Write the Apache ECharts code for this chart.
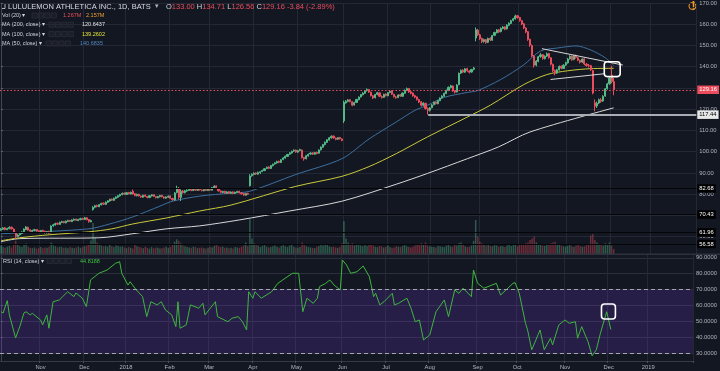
<!DOCTYPE html>
<html><head><meta charset="utf-8">
<script src="https://cdn.jsdelivr.net/npm/echarts@6/dist/echarts.min.js"></script>
<style>html,body{margin:0;padding:0;background:#131722;}#c{width:720px;height:371px;}</style>
</head><body><div id="c"></div>
<script>
// ---------- calendar / tick labels ----------
const firstDay = [2017, 9, 5];
const holidays = ['2017-11-23','2017-12-25','2018-01-01','2018-01-15','2018-02-19','2018-03-30','2018-05-28','2018-07-04','2018-09-03','2018-11-22','2018-12-05','2018-12-25','2019-01-01'];
const totalSlots = 333;
const monthNames = ['Jan','Feb','Mar','Apr','May','Jun','Jul','Aug','Sep','Oct','Nov','Dec'];

// ---------- candles [open, close, low, high] by month ----------
const oct17 = [[63.2,63.6,62.8,64.0],[63.5,64.1,63.2,64.5],[64.2,63.4,63.0,64.6],[63.3,63.9,63.1,64.2],[63.8,64.4,63.5,64.9],[64.5,63.7,63.4,64.7],[63.6,62.1,61.8,63.9],[62.0,60.2,59.0,62.3],[60.1,60.8,59.6,61.2],[60.9,61.6,60.5,61.9],[61.5,62.2,61.2,62.6],[62.3,63.6,62.0,63.9],[63.4,64.6,63.1,65.0],[64.4,63.1,62.8,64.7],[63.2,62.6,62.2,63.5],[62.5,62.9,62.1,63.3],[62.9,63.3,62.6,63.7],[63.4,62.7,62.4,63.6],[62.8,62.3,61.9,63.0]];
const nov17 = [[62.2,62.9,62.0,63.2],[63.0,62.5,62.2,63.3],[62.6,61.9,61.5,62.8],[61.8,62.4,61.5,62.7],[62.5,61.7,61.2,62.8],[61.8,65.0,61.6,65.4],[65.1,65.6,64.7,66.0],[65.5,66.2,65.2,66.6],[66.3,65.9,65.5,66.7],[65.8,66.8,65.6,67.1],[66.7,67.1,66.4,67.5],[67.2,66.6,66.3,67.4],[66.5,67.3,66.3,67.6],[67.2,67.6,66.9,68.0],[67.7,67.2,66.9,67.9],[67.1,67.9,66.9,68.2],[67.8,68.2,67.5,68.6],[68.3,67.7,67.4,68.5],[67.6,68.1,67.3,68.4],[68.0,68.5,67.8,68.9],[68.6,68.2,67.9,68.9]];
const dec17 = [[68.1,68.9,67.9,69.3],[68.9,68.0,67.7,69.1],[68.1,67.1,66.6,68.3],[67.0,67.6,66.8,68.0],[72.8,73.8,72.3,74.4],[73.9,74.6,73.4,75.0],[74.7,74.2,73.8,75.1],[74.1,75.1,73.9,75.4],[75.0,75.7,74.7,76.0],[75.8,75.3,75.0,76.1],[75.2,76.3,75.0,76.6],[76.2,76.9,75.9,77.2],[76.8,77.6,76.5,77.9],[77.7,77.2,76.9,78.0],[77.1,78.1,76.9,78.4],[78.0,78.7,77.7,79.0],[78.6,79.3,78.3,79.6],[79.2,79.9,78.9,80.2],[79.8,80.4,79.5,80.8],[80.5,80.0,79.6,80.8]];
const jan18 = [[79.9,80.7,79.7,81.0],[80.8,80.2,79.9,81.1],[80.1,80.9,79.9,81.2],[81.4,80.1,79.8,82.2],[80.2,79.4,79.0,80.5],[79.3,79.9,79.0,80.3],[80.0,79.2,78.9,80.2],[79.1,78.7,78.3,79.4],[78.6,79.5,78.4,79.8],[79.6,79.0,78.7,79.9],[78.9,78.5,78.1,79.2],[78.4,79.3,78.2,79.6],[79.2,79.7,78.9,80.0],[79.8,79.0,78.7,80.0],[78.9,78.4,78.0,79.2],[78.3,78.9,78.1,79.2],[78.8,79.4,78.5,79.7],[79.5,78.8,78.5,79.7],[78.7,78.2,77.8,79.0],[78.1,78.7,77.9,79.0],[78.6,79.1,78.3,79.4]];
const feb18 = [[79.2,78.1,77.8,79.4],[78.0,77.4,76.9,78.3],[77.3,80.6,77.0,81.0],[80.8,82.9,80.4,84.0],[82.6,78.6,77.6,83.4],[78.5,81.4,76.8,82.3],[81.5,80.8,80.2,82.0],[80.7,81.6,80.4,82.0],[81.5,81.9,81.1,82.3],[81.8,82.3,81.5,82.7],[82.4,81.8,81.4,82.6],[81.7,82.4,81.5,82.7],[82.5,81.9,81.6,82.7],[81.8,82.5,81.6,82.8],[82.6,82.1,81.7,82.9],[82.0,81.7,81.3,82.3],[81.6,82.2,81.4,82.5],[82.3,81.8,81.5,82.6],[81.7,82.4,81.5,82.7]];
const mar18 = [[82.5,82.0,81.6,82.8],[81.9,83.1,81.7,83.4],[83.0,83.8,82.7,84.2],[83.9,82.7,82.4,84.1],[82.6,81.6,81.2,82.8],[81.5,80.9,80.5,81.8],[80.8,81.3,80.5,81.6],[81.4,80.6,80.3,81.6],[80.5,81.1,80.3,81.4],[81.2,80.5,80.2,81.4],[80.4,81.0,80.2,81.3],[81.1,80.4,80.0,81.3],[80.3,80.9,80.1,81.2],[80.8,81.3,80.6,81.6],[81.4,80.7,80.4,81.6],[80.6,80.2,79.8,81.0],[80.3,79.6,79.2,80.5],[79.5,80.3,79.3,80.6],[80.4,80.0,79.6,80.7],[84.0,88.6,83.6,89.4],[88.7,89.4,88.2,89.8]];
const apr18 = [[89.3,89.9,88.9,90.3],[90.0,89.5,89.1,90.3],[89.4,90.3,89.2,90.6],[90.2,90.6,89.5,90.9],[90.7,91.2,90.4,91.5],[91.1,92.0,90.9,92.3],[92.1,92.7,91.8,93.0],[92.8,92.2,91.8,93.1],[92.1,93.5,91.9,93.8],[93.4,94.1,93.1,94.4],[94.2,94.8,93.9,95.1],[94.7,95.4,94.4,95.8],[95.5,95.0,94.6,95.8],[94.9,96.2,94.7,96.5],[96.3,97.1,96.0,97.4],[97.0,97.9,96.7,98.2],[97.8,98.7,97.5,99.0],[98.8,99.5,98.5,99.8],[99.4,100.2,99.1,100.5],[100.3,100.7,99.9,101.1],[100.8,99.9,99.5,101.0]];
const may18 = [[99.8,100.5,99.5,100.8],[100.6,101.0,100.2,101.4],[100.8,97.2,96.8,101.0],[97.3,96.6,95.8,97.6],[96.7,98.1,96.4,98.4],[98.0,98.8,97.7,99.1],[98.9,99.4,98.6,99.7],[99.5,98.9,98.5,99.8],[98.8,99.6,98.6,99.9],[99.7,99.2,98.8,100.0],[99.3,100.8,99.1,101.1],[100.9,102.2,100.6,102.5],[102.1,103.4,101.9,103.7],[103.3,104.5,103.0,104.8],[104.4,105.6,104.1,105.9],[105.5,106.6,105.2,106.9],[106.5,107.3,106.2,107.7],[107.4,106.5,106.1,107.6],[106.4,105.8,105.4,106.7],[105.9,106.6,105.6,106.9],[106.7,106.1,105.7,107.0],[106.0,105.3,104.9,106.3]];
const jun18 = [[114.5,123.2,113.5,124.0],[123.0,123.8,122.6,124.3],[123.7,124.4,123.3,124.8],[124.5,123.6,123.2,124.7],[123.5,121.9,121.4,123.8],[122.0,123.1,121.7,123.5],[123.2,124.6,122.9,124.9],[124.5,125.7,124.2,126.0],[125.8,126.9,125.5,127.2],[126.8,127.6,126.5,128.0],[127.5,128.7,127.2,129.0],[128.8,129.3,128.3,129.8],[129.2,128.1,127.7,129.5],[128.0,126.4,126.0,128.3],[126.3,125.3,124.8,126.7],[125.4,126.9,125.1,127.2],[127.0,127.8,126.6,128.2],[127.7,126.1,125.7,128.0],[126.0,125.5,125.0,126.5],[125.6,127.0,125.3,127.3],[127.1,126.4,126.0,127.5]];
const jul18 = [[126.3,127.8,126.1,128.1],[127.9,128.5,127.5,129.0],[128.6,127.1,126.7,128.9],[127.0,125.9,125.5,127.3],[125.8,125.4,124.9,126.3],[125.5,126.7,125.2,127.0],[126.8,126.2,125.8,127.1],[126.1,127.6,125.9,127.9],[127.5,128.9,127.3,129.3],[128.8,129.7,128.5,130.2],[129.8,128.1,127.7,130.0],[128.2,127.5,127.0,128.6],[127.6,126.3,125.9,127.9],[126.4,125.7,125.2,126.8],[125.8,124.6,124.1,126.0],[124.5,123.4,122.9,124.9],[123.5,121.8,121.3,123.8],[121.9,122.9,121.4,123.3],[122.8,120.3,119.8,123.0],[120.4,119.4,117.44,120.8],[119.5,120.6,118.9,121.0]];
const aug18 = [[120.7,122.0,120.4,122.4],[122.1,123.3,121.8,123.6],[123.4,122.7,122.2,123.7],[122.6,124.1,122.3,124.4],[124.0,125.3,123.8,125.6],[125.4,126.2,125.0,126.6],[126.1,127.5,125.8,127.8],[127.4,128.9,127.1,129.2],[128.8,130.3,128.5,130.7],[130.2,131.0,129.8,131.5],[130.9,128.6,128.2,131.2],[128.7,128.0,127.4,129.0],[128.1,131.4,127.9,131.8],[131.6,136.9,131.3,137.3],[137.0,138.3,136.6,138.7],[138.4,137.5,137.0,138.8],[137.4,139.0,137.1,139.4],[139.1,138.1,137.7,139.5],[138.0,137.4,136.8,138.4],[137.5,138.7,137.2,139.0],[138.8,139.4,138.3,139.9],[153.5,157.4,152.0,158.5],[157.2,155.1,154.5,157.8]];
const sep18 = [[155.0,153.2,152.6,155.5],[153.3,151.8,151.1,153.7],[151.9,152.7,151.3,153.2],[152.8,151.4,150.8,153.1],[151.5,153.3,151.1,153.7],[153.4,152.6,152.1,153.9],[152.5,154.7,152.2,155.0],[154.8,156.1,154.4,156.5],[156.0,157.3,155.7,157.7],[157.4,156.4,155.9,157.8],[156.5,158.1,156.2,158.5],[158.0,158.7,157.6,159.1],[158.8,157.7,157.2,159.0],[157.8,159.6,157.5,160.0],[159.5,160.5,159.1,160.9],[160.4,161.7,160.1,162.1],[161.8,162.6,161.4,163.0],[162.5,163.9,162.2,164.5],[164.0,163.1,162.6,164.3]];
const oct18 = [[163.2,161.8,161.2,163.5],[161.7,160.1,159.6,162.0],[160.2,158.3,157.7,160.5],[158.2,156.4,155.8,158.6],[156.5,152.8,152.2,156.8],[152.9,150.2,149.4,153.2],[150.0,145.1,144.5,150.5],[145.0,140.6,139.6,145.5],[140.8,142.6,140.2,143.1],[142.5,144.7,142.1,145.1],[144.8,145.6,144.2,146.4],[145.7,143.9,143.3,146.0],[143.8,144.9,143.4,145.4],[145.0,146.1,144.6,146.7],[146.2,144.3,143.8,146.5],[144.2,141.2,140.6,144.5],[141.1,138.1,137.5,141.5],[138.2,136.9,136.0,138.7],[137.0,138.6,136.6,139.0],[138.5,140.1,138.2,140.6],[140.2,139.3,138.8,140.6],[139.2,140.7,138.9,141.2],[140.8,141.9,140.4,142.4]];
const nov18 = [[141.8,143.6,141.5,144.1],[143.7,144.9,143.3,145.4],[145.0,143.3,142.8,145.3],[143.4,145.1,143.0,145.6],[145.2,144.3,143.8,145.7],[144.2,143.1,142.6,144.6],[143.0,142.1,141.5,143.4],[142.2,143.6,141.8,144.0],[143.7,141.3,140.7,144.0],[141.2,140.6,140.0,141.8],[140.5,140.4,139.6,141.3],[140.5,138.6,138.0,140.9],[138.2,127.6,127.0,138.6],[123.0,121.4,119.0,124.6],[121.5,122.8,120.6,123.6],[122.9,124.5,122.4,125.0],[124.4,123.8,123.0,125.2],[123.9,126.1,123.5,126.6],[126.2,129.6,125.9,130.0],[129.7,131.9,129.2,132.4],[132.0,134.6,131.5,135.1]];
const dec18 = [[136.0,133.0,132.2,140.5],[133.0,129.16,126.56,134.71]];

// ---------- volume (millions) ----------
const volumes = [2.2,1.8,1.6,1.9,2.1,1.7,2.6,3.4,2.4,2.0,1.8,2.3,2.7,1.9,1.6,1.5,1.7,1.4,1.6,1.8,1.5,1.7,1.6,1.9,3.0,2.2,2.0,1.7,1.9,1.8,1.6,1.7,1.5,1.8,1.6,1.5,1.7,1.9,1.6,1.8,2.0,2.2,2.4,3.5,
8.0,4.2,3.0,2.6,2.2,2.0,2.1,1.9,2.4,2.0,1.8,2.2,2.1,1.9,2.0,1.7,1.5,1.8,1.6,1.4,2.6,2.0,1.8,1.7,1.5,1.9,1.6,1.4,1.8,1.5,1.7,1.6,1.4,1.5,1.7,1.9,1.6,1.8,
2.4,3.2,3.8,3.4,2.8,2.2,2.0,1.8,1.7,1.6,1.9,1.8,1.5,1.6,1.7,1.5,1.4,1.6,1.8,1.7,2.1,2.4,2.0,1.8,1.9,1.6,1.7,1.5,1.6,1.4,1.8,1.7,1.6,1.9,2.2,3.0,
2.0,9.0,4.0,2.8,2.4,2.2,1.8,2.1,2.3,1.9,1.7,1.8,2.0,2.2,1.9,1.7,2.1,2.3,2.0,1.8,2.2,2.4,1.9,1.7,1.6,1.8,3.0,2.4,2.0,1.8,1.7,1.6,1.5,1.9,2.1,2.3,2.2,2.5,2.4,2.0,1.8,1.9,1.7,1.6,1.8,2.8,
8.5,4.0,3.0,2.6,2.8,2.2,2.4,2.6,2.2,2.0,2.4,2.1,2.3,2.5,2.2,1.9,1.8,2.1,2.0,1.7,1.9,2.2,1.8,1.6,1.7,2.0,1.9,1.8,2.1,2.3,2.0,1.8,1.7,1.9,2.2,2.4,2.6,2.8,2.4,3.0,2.2,2.0,1.9,1.8,1.7,2.1,2.0,1.9,1.8,2.2,2.4,2.0,1.9,2.6,2.2,2.8,3.0,2.4,2.0,1.8,1.9,2.2,3.4,
8.8,4.5,3.2,2.8,2.5,2.2,2.4,2.1,2.0,2.3,2.2,1.9,2.1,2.0,1.8,2.2,2.4,2.1,2.3,2.6,2.0,2.4,2.6,2.5,2.8,3.0,3.6,4.0,4.5,3.0,2.6,2.4,2.2,2.1,2.3,2.5,2.8,3.0,3.2,2.6,2.4,2.2,2.0,1.9,2.1,2.3,2.0,1.8,2.2,2.4,2.1,1.9,2.0,2.3,2.6,4.8,5.2,3.6,3.0,2.6,2.4,2.2,2.8,2.5,3.0,2.2,1.267];

// ---------- moving averages [barIndex, value] ----------
const ma200 = [[0,57.7],[9,59.1],[47,59.5],[63,61.4],[79,63.7],[95,65.1],[114,67.9],[138,72.1],[163,76.7],[189,84.7],[204,89.8],[223,96.7],[238,102.3],[253,109.3],[293,120.6437]];
const ma100 = [[0,58.1],[9,59.5],[23,60.9],[42,62.3],[53,63.7],[63,66.0],[79,68.8],[95,72.1],[110,74.9],[141,83.7],[163,88.4],[176,93.0],[189,99.1],[204,107.0],[223,116.3],[234,121.9],[250,131.6],[261,136.3],[271,138.1],[282,139.1],[293,139.2602]];
const ma50 = [[0,61.4],[42,63.7],[52,66.0],[63,69.3],[76,74.4],[82,76.7],[95,79.1],[110,80.5],[119,81.4],[141,89.3],[163,96.7],[176,106.0],[189,114.0],[198,119.5],[204,121.9],[212,125.6],[223,127.9],[228,128.8],[239,134.0],[250,140.9],[258,147.4],[266,148.8],[275,149.8],[282,147.9],[289,144.2],[293,140.6835]];

// ---------- RSI(14) [barIndex, value] ----------
const rsi = [[0,56.0],[1,55.2],[3,63.0],[4,54.0],[7,39.5],[9,46.6],[11,55.2],[12,56.0],[14,54.0],[15,55.0],[19,50.8],[20,47.7],[22,54.0],[23,45.6],[25,62.3],[28,63.4],[32,68.6],[35,65.5],[36,67.8],[39,64.6],[41,59.2],[43,76.0],[47,80.2],[51,82.3],[55,86.5],[57,87.5],[58,80.2],[61,72.8],[62,74.9],[65,69.7],[68,65.5],[70,52.9],[72,62.3],[75,60.3],[77,62.3],[79,57.1],[82,54.0],[84,46.6],[85,62.3],[86,45.6],[89,47.7],[91,60.3],[95,58.2],[97,61.3],[98,54.0],[103,62.3],[104,52.9],[109,49.7],[111,51.9],[114,52.9],[116,49.7],[118,44.5],[119,68.6],[121,64.5],[122,68.6],[125,64.5],[130,68.6],[133,73.9],[140,80.2],[143,80.2],[145,56.0],[147,64.5],[150,61.3],[152,64.5],[153,71.8],[156,73.9],[158,76.0],[160,72.8],[163,69.7],[164,88.6],[166,85.4],[168,80.2],[171,81.2],[174,84.8],[177,78.0],[179,65.5],[180,67.6],[182,60.3],[184,62.3],[188,67.6],[189,60.3],[191,61.3],[195,64.5],[197,58.2],[199,49.7],[201,50.8],[203,38.2],[206,41.4],[209,56.0],[213,63.4],[215,52.9],[218,69.7],[220,67.6],[222,70.8],[226,65.5],[227,82.3],[229,73.9],[232,70.8],[234,71.8],[238,73.9],[240,66.5],[246,73.9],[247,74.3],[249,67.6],[252,48.7],[253,44.5],[255,32.0],[258,41.4],[259,44.5],[261,32.0],[264,39.3],[265,35.1],[268,47.7],[271,50.8],[273,48.7],[276,49.7],[277,39.3],[279,46.6],[282,37.2],[284,28.2],[286,32.0],[288,42.5],[291,56.0],[293,44.8188]];

// ---------- drawings ----------
const trendUpper = [[258.7,148.5],[297.4,140.8]];
const trendLower = [[262.8,134.0],[288.5,136.7]];
const supportStart = [204.3, 117.44];
const levelLines = [82.68, 70.43, 61.96, 56.58];
const lastClose = 129.16;
const priceBox = [[288.5,135.35,296.1,142.33]];
const rsiBox = [[288.5,51.4,295.2,60.9]];

// ---------- build ----------
const candles = [].concat(oct17,nov17,dec17,jan18,feb18,mar18,apr18,may18,jun18,jul18,aug18,sep18,oct18,nov18,dec18);
const dates = [];
(function(){
  const d = new Date(Date.UTC(firstDay[0], firstDay[1], firstDay[2]));
  while (dates.length < totalSlots) {
    const wd = d.getUTCDay();
    const s = d.toISOString().slice(0,10);
    if (wd !== 0 && wd !== 6 && holidays.indexOf(s) < 0) dates.push(s);
    d.setUTCDate(d.getUTCDate() + 1);
  }
})();
function monthStart(i){ return i > 0 && dates[i].slice(0,7) !== dates[i-1].slice(0,7); }
function monthLabel(v){ const m = +v.slice(5,7); return m === 1 ? v.slice(0,4) : monthNames[m-1]; }

const UP = '#53b987', DOWN = '#eb4d5c';
const volData = volumes.map((v,i) => ({ value: v, itemStyle: { color: candles[i][1] >= candles[i][0] ? 'rgba(83,185,135,0.42)' : 'rgba(235,77,92,0.42)' } }));

const FONT = 'Liberation Sans, Arial, sans-serif';
const GRIDC = '#242834';
const AXC = '#b2b5be';
const priceMax = 170, priceMin = 170 - 254 / 2.15;

const chart = echarts.init(document.getElementById('c'), null, { width: 720, height: 371 });

function boxRender(params, api) {
  const p0 = api.coord([api.value(0), api.value(3)]);
  const p1 = api.coord([api.value(2), api.value(1)]);
  return { type: 'rect', shape: { x: p0[0], y: p0[1], width: p1[0]-p0[0], height: p1[1]-p0[1], r: 3 },
           style: { fill: 'none', stroke: '#ffffff', lineWidth: 1.6 } };
}
function lvlLabel(bg, fg, value) {
  return { show: true, position: 'end', distance: 1, formatter: value.toFixed(2), backgroundColor: bg, color: fg,
           padding: [1.5, 2, 1, 2], fontSize: 5.8, fontFamily: FONT };
}

const legendBoxes = [];
[[32,15.5],[49,24.7],[49,34],[46,43.5],[47,261]].forEach(([x,y]) => {
  for (let k = 0; k < 4; k++) legendBoxes.push({ type: 'rect', shape: { x: x + k*6.4, y: y-2.6, width: 5.2, height: 5.2 },
    style: { fill: '#1a1e28', stroke: '#30343f', lineWidth: 0.6 }, silent: true });
});
function txt(x, y, text, fill, size, extra) {
  return Object.assign({ type: 'text', x: x, y: y, silent: true, z: 20,
    style: Object.assign({ text: text, fill: fill, font: (size||5.5) + 'px ' + FONT, verticalAlign: 'middle' }, extra || {}) });
}

chart.setOption({
  backgroundColor: '#131722',
  animation: false,
  grid: [
    { left: 0, right: 21, top: 0, height: 254 },
    { left: 0, right: 21, top: 254, height: 107 }
  ],
  xAxis: [
    { type: 'category', gridIndex: 0, data: dates, axisLine: { show: false }, axisTick: { show: false }, axisLabel: { show: false },
      splitLine: { show: true, interval: monthStart, lineStyle: { color: GRIDC, width: 1 } } },
    { type: 'category', gridIndex: 1, data: dates, axisLine: { show: true, lineStyle: { color: '#363a45' } },
      axisTick: { show: true, interval: monthStart, length: 2, lineStyle: { color: '#4a4e59' } },
      axisLabel: { show: true, interval: monthStart, formatter: monthLabel, color: AXC, fontSize: 5.8, fontFamily: FONT, margin: 3 },
      splitLine: { show: true, interval: monthStart, lineStyle: { color: GRIDC, width: 1 } } },
    { type: 'value', gridIndex: 0, min: -0.5, max: totalSlots - 0.5, show: false },
    { type: 'value', gridIndex: 1, min: -0.5, max: totalSlots - 0.5, show: false }
  ],
  yAxis: [
    { type: 'value', gridIndex: 0, position: 'right', min: priceMin, max: priceMax, splitNumber: 12, scale: true,
      axisLine: { show: true, lineStyle: { color: '#434651' } }, axisTick: { show: true, length: 2, lineStyle: { color: '#5d606b' } },
      axisLabel: { color: AXC, fontSize: 5.8, fontFamily: FONT, margin: 3, showMinLabel: false,
        formatter: v => (Math.abs(v-130) < 0.01 || Math.abs(v-70) < 0.01) ? '' : v.toFixed(2) },
      splitLine: { show: true, lineStyle: { color: GRIDC } } },
    { type: 'value', gridIndex: 0, min: 0, max: 65, show: false },
    { type: 'value', gridIndex: 1, position: 'right', min: 30 - 8/1.5875, max: 70 + 35.5/1.5875, splitNumber: 7, scale: true,
      axisLine: { show: true, lineStyle: { color: '#434651' } }, axisTick: { show: true, length: 2, lineStyle: { color: '#5d606b' } },
      axisLabel: { color: AXC, fontSize: 5.8, fontFamily: FONT, margin: 3, showMinLabel: false, showMaxLabel: false, formatter: v => v.toFixed(4) },
      splitLine: { show: true, lineStyle: { color: '#2b2f3d' } } }
  ],
  series: [
    { type: 'bar', xAxisIndex: 0, yAxisIndex: 1, data: volData, barWidth: '70%', silent: true, z: 1 },
    { type: 'line', xAxisIndex: 2, yAxisIndex: 0, data: ma200, showSymbol: false, smooth: 0.3, silent: true, z: 3,
      lineStyle: { color: '#d8d8d8', width: 1 },
      markLine: { silent: true, symbol: ['none','none'], animation: false, data: [
        { yAxis: lastClose, lineStyle: { color: DOWN, type: [1.5, 2], width: 1 }, label: lvlLabel(DOWN, '#ffffff', lastClose) },
        [ { coord: supportStart, lineStyle: { color: '#a9acb3', type: 'solid', width: 2 }, label: lvlLabel('#e8e8e8', '#000000', supportStart[1]) },
          { coord: [totalSlots - 0.5, supportStart[1]] } ]
      ].concat(levelLines.map(v => ({ yAxis: v, lineStyle: { color: '#050608', type: 'solid', width: 1 }, label: lvlLabel('#000000', '#ffffff', v) }))) } },
    { type: 'line', xAxisIndex: 2, yAxisIndex: 0, data: ma100, showSymbol: false, smooth: 0.3, silent: true, z: 3,
      lineStyle: { color: '#c9c93a', width: 1 } },
    { type: 'line', xAxisIndex: 2, yAxisIndex: 0, data: ma50, showSymbol: false, smooth: 0.3, silent: true, z: 3,
      lineStyle: { color: '#3d6f9e', width: 1 } },
    { type: 'candlestick', xAxisIndex: 0, yAxisIndex: 0, data: candles, barWidth: '72%', silent: true, z: 4,
      itemStyle: { color: UP, color0: DOWN, borderColor: UP, borderColor0: DOWN, borderWidth: 1 } },
    { type: 'line', xAxisIndex: 2, yAxisIndex: 0, data: trendUpper, showSymbol: false, silent: true, z: 5, lineStyle: { color: '#d6d6d6', width: 1 } },
    { type: 'line', xAxisIndex: 2, yAxisIndex: 0, data: trendLower, showSymbol: false, silent: true, z: 5, lineStyle: { color: '#d6d6d6', width: 1 } },
    { type: 'custom', xAxisIndex: 2, yAxisIndex: 0, data: priceBox, renderItem: boxRender, clip: false, silent: true, z: 6,
      encode: { x: [0, 2], y: [1, 3] } },
    { type: 'line', xAxisIndex: 3, yAxisIndex: 2, data: rsi, showSymbol: false, silent: true, z: 4,
      lineStyle: { color: '#3fb53f', width: 1 },
      markArea: { silent: true, itemStyle: { color: 'rgba(110,60,200,0.22)' }, data: [[{ yAxis: 30 }, { yAxis: 70 }]] },
      markLine: { silent: true, symbol: ['none','none'], label: { show: false },
        lineStyle: { color: '#a3a6ae', type: [4, 3], width: 1 }, data: [{ yAxis: 70 }, { yAxis: 30 }] } },
    { type: 'custom', xAxisIndex: 3, yAxisIndex: 2, data: rsiBox, renderItem: boxRender, clip: false, silent: true, z: 6,
      encode: { x: [0, 2], y: [1, 3] } }
  ],
  graphic: [
    { type: 'rect', shape: { x: 0, y: 253.5, width: 720, height: 1.5 }, style: { fill: '#2e323e' }, silent: true, z: 10 },
    { type: 'rect', shape: { x: 1.5, y: 3.5, width: 3.5, height: 5 }, style: { fill: 'none', stroke: '#d1d4dc', lineWidth: 0.8 }, silent: true },
    txt(8, 6.5, 'LULULEMON ATHLETICA INC., 1D, BATS', '#d9dbe2', 7.5),
    txt(155, 6.5, '▾', '#b2b5be', 6.5),
    txt(166, 6.5, '{l|O}{v|133.00} {l|H}{v|134.71} {l|L}{v|126.56} {l|C}{v|129.16} {v|-3.84 (-2.89%)}', '#d1d4dc', 7.5,
      { rich: { l: { fill: '#d1d4dc', font: '7.5px ' + FONT }, v: { fill: '#eb4d5c', font: '7.5px ' + FONT } } }),
    txt(2, 15.5, 'Vol (20) ▾', '#d1d4dc'),
    txt(63, 15.5, '1.267M', '#eb4d5c'),
    txt(86, 15.5, '2.157M', '#f0a030'),
    txt(2, 24.7, 'MA (200, close) ▾', '#d1d4dc'),
    txt(82, 24.7, '120.6437', '#e8e8e8'),
    txt(2, 34, 'MA (100, close) ▾', '#d1d4dc'),
    txt(82, 34, '139.2602', '#e3e33a'),
    txt(2, 43.5, 'MA (50, close) ▾', '#d1d4dc'),
    txt(80, 43.5, '140.6835', '#4f86bd'),
    txt(3, 261, 'RSI (14, close) ▾', '#d1d4dc'),
    txt(80, 261, '44.8188', '#3fc13f'),
    { type: 'circle', shape: { cx: 692.5, cy: 6, r: 3.6 }, style: { fill: 'none', stroke: '#f39c2a', lineWidth: 1 }, silent: true },
    txt(691.4, 6.2, '!', '#f39c2a', 5.5, { fontWeight: 'bold' })
  ].concat(legendBoxes)
});
</script></body></html>
